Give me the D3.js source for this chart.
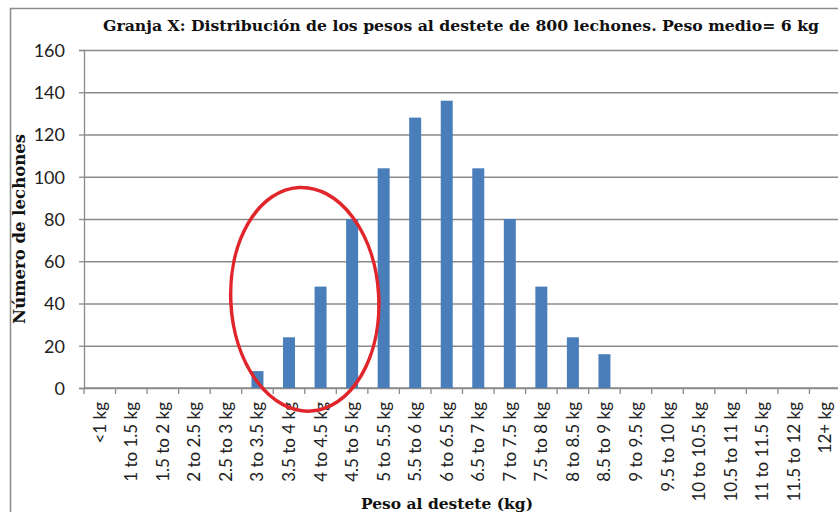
<!DOCTYPE html>
<html>
<head>
<meta charset="utf-8">
<script src="https://cdn.jsdelivr.net/npm/d3@7"></script>
<style>
  body { margin: 0; background: #fff; }
  .tick text { font-family: Lato, "Open Sans", sans-serif; fill: #222; }
  .title { font-family: "DejaVu Serif", serif; font-weight: bold; fill: #111; }
</style>
</head>
<body>
<svg id="chart" width="838" height="512"></svg>
<script>
var categories = ["<1 kg", "1 to 1.5 kg", "1.5 to 2 kg", "2 to 2.5 kg", "2.5 to 3 kg",
    "3 to 3.5 kg", "3.5 to 4 kg", "4 to 4.5 kg", "4.5 to 5 kg", "5 to 5.5 kg",
    "5.5 to 6 kg", "6 to 6.5 kg", "6.5 to 7 kg", "7 to 7.5 kg", "7.5 to 8 kg",
    "8 to 8.5 kg", "8.5 to 9 kg", "9 to 9.5 kg", "9.5 to 10 kg", "10 to 10.5 kg",
    "10.5 to 11 kg", "11 to 11.5 kg", "11.5 to 12 kg", "12+ kg"];
var lechones = [0, 0, 0, 0, 0, 8, 24, 48, 80, 104, 128, 136, 104, 80, 48, 24, 16,
    0, 0, 0, 0, 0, 0, 0];
var yTicks = [0, 20, 40, 60, 80, 100, 120, 140, 160];

var svg = d3.select("#chart");
var width = 838, height = 512;
var margin = {left: 84, right: -3, top: 50, bottom: 124};

var x = d3.scaleBand()
    .domain(categories)
    .range([margin.left, width - margin.right])
    .paddingInner(0.62)
    .paddingOuter(0.31);

var y = d3.scaleLinear()
    .domain([0, 160])
    .range([height - margin.bottom, margin.top]);

// chart frame
svg.append("rect")
    .attr("x", 10.5).attr("y", 8.5)
    .attr("width", 840).attr("height", 520)
    .style("fill", "none")
    .style("stroke", "#8c8c8c")
    .style("stroke-width", 1.5);

// gridlines
svg.append("g")
    .selectAll("line")
    .data(yTicks)
    .enter().append("line")
    .attr("x1", margin.left).attr("x2", width)
    .attr("y1", function(d) { return y(d) + 0.5; })
    .attr("y2", function(d) { return y(d) + 0.5; })
    .style("stroke", "#8a8a8a")
    .style("stroke-width", 1.3);

// y axis
var yAxis = svg.append("g")
    .attr("transform", "translate(" + margin.left + ",0)")
    .call(d3.axisLeft(y).tickValues(yTicks).tickSize(5).tickPadding(14));
yAxis.selectAll("text").style("font-size", "18px").attr("dy", "0.36em");
yAxis.selectAll("line, path").style("stroke", "#8a8a8a").style("stroke-width", 1.3);

// x axis with boundary ticks between categories
var xAxis = svg.append("g")
    .attr("transform", "translate(0," + y(0) + ")");
xAxis.append("line")
    .attr("x1", margin.left).attr("x2", width)
    .style("stroke", "#8a8a8a").style("stroke-width", 1.3);
var step = x.step();
xAxis.selectAll(".xt")
    .data(categories)
    .enter().append("line")
    .attr("class", "xt")
    .attr("x1", function(d) { return x(d) + x.bandwidth() / 2 - step / 2; })
    .attr("x2", function(d) { return x(d) + x.bandwidth() / 2 - step / 2; })
    .attr("y1", 0).attr("y2", 6)
    .style("stroke", "#8a8a8a").style("stroke-width", 1.3);
xAxis.selectAll(".xl")
    .data(categories)
    .enter().append("text")
    .attr("class", "xl")
    .attr("transform", function(d) {
        return "translate(" + (x(d) + x.bandwidth() / 2 + 6) + ",14) rotate(-90)";
    })
    .attr("text-anchor", "end")
    .style("font-family", "Lato, 'Open Sans', sans-serif")
    .style("font-size", "17px")
    .style("fill", "#222")
    .text(function(d) { return d; });

// bars
svg.append("g")
    .selectAll("rect")
    .data(lechones)
    .enter().append("rect")
    .attr("x", function(d, i) { return x(categories[i]); })
    .attr("y", function(d) { return y(d); })
    .attr("width", x.bandwidth())
    .attr("height", function(d) { return y(0) - y(d); })
    .style("fill", "#4a7ebb");

// titles
svg.append("text")
    .attr("class", "title")
    .attr("x", 461).attr("y", 31)
    .attr("text-anchor", "middle")
    .style("font-size", "15.7px")
    .text("Granja X: Distribución de los pesos al destete de 800 lechones. Peso medio= 6 kg");

svg.append("text")
    .attr("class", "title")
    .attr("transform", "translate(25,229) rotate(-90)")
    .attr("text-anchor", "middle")
    .style("font-size", "16.5px")
    .text("Número de lechones");

svg.append("text")
    .attr("class", "title")
    .attr("x", 447).attr("y", 509)
    .attr("text-anchor", "middle")
    .style("font-size", "15.5px")
    .text("Peso al destete (kg)");

// red annotation ellipse around the low-weight bars
var cx = (x("3.5 to 4 kg") + x("4 to 4.5 kg") + x.bandwidth()) / 2;
var cy = (y(95) + y(-11)) / 2;
svg.append("ellipse")
    .attr("cx", cx)
    .attr("cy", cy)
    .attr("rx", 74)
    .attr("ry", (y(-11) - y(95)) / 2)
    .attr("transform", "rotate(-3," + cx + "," + cy + ")")
    .style("fill", "none")
    .style("stroke", "#e0262b")
    .style("stroke-width", 3.5);
</script>
</body>
</html>
